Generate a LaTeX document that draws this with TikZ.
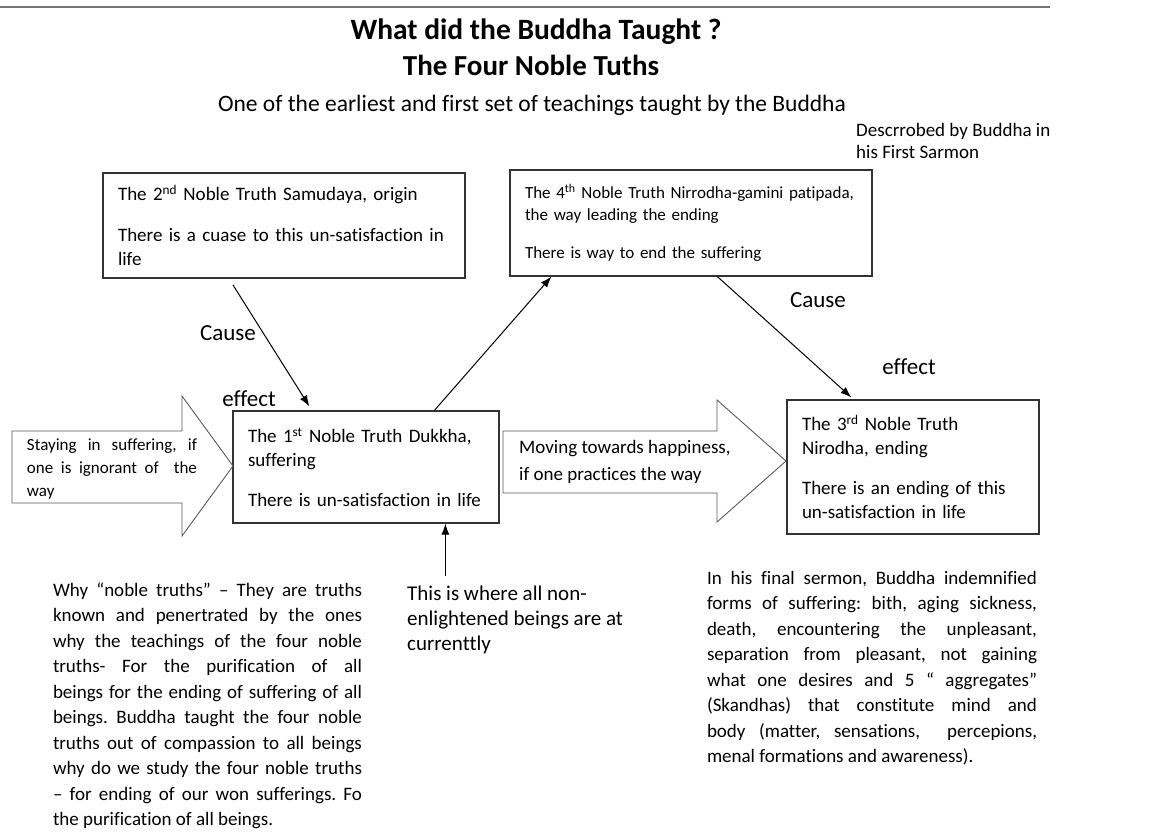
\documentclass[tikz,border=0pt]{standalone}
\usepackage{fontspec}
\setmainfont[Ligatures={NoCommon}]{Carlito}
\usetikzlibrary{arrows.meta,positioning}
\frenchspacing

\tikzset{
  truth/.style={draw=black!80, line width=1.2pt, inner xsep=15pt, inner ysep=0pt,
    align=left, font=\fontsize{19}{24}\selectfont},
  blockarrow/.style={draw=black!65, line width=0.9pt},
  link/.style={-{Latex[length=11pt,width=8pt]}, line width=1pt},
  note/.style={font=\fontsize{19}{25.5}\selectfont, inner sep=0pt, align=justify},
  tag/.style={font=\fontsize{23}{28}\selectfont, inner sep=0pt},
}

\begin{document}
\begin{tikzpicture}[x=1pt,y=-1pt]
\useasboundingbox (0,0) rectangle (1169,832);

\draw[black!55, line width=1.5pt] (0,7) -- (1050,7);

% headings
\node[font=\bfseries\fontsize{29.5}{34}\selectfont, anchor=base] (title) at (536,40) {What did the Buddha Taught ?};
\node[font=\bfseries\fontsize{29}{34}\selectfont, anchor=base] (subtitle) at (531,76) {The Four Noble Tuths};
\node[font=\fontsize{23.5}{28}\selectfont, anchor=base] (intro) at (532,112) {One of the earliest and first set of teachings taught by the Buddha};
\node[font=\fontsize{19}{22}\selectfont, align=left, anchor=west, inner sep=0pt] (sermon) at (856,141) {Descrrobed by Buddha in\\his First Sarmon};

% the four truths
\node[truth, minimum width=362pt, minimum height=105pt, text width=332pt] (samudaya) at (284,225.5)
  {The 2\textsuperscript{nd} Noble Truth Samudaya, origin\\[17pt]There is a cuase to this un-satisfaction in\\life};
\node[truth, minimum width=362pt, minimum height=106pt, text width=332pt, font=\fontsize{17}{22}\selectfont] (magga) at (691,223)
  {The 4\textsuperscript{th} Noble Truth Nirrodha-gamini patipada,\\the way leading the ending\\[16pt]There is way to end the suffering};
\node[truth, minimum width=266pt, minimum height=112pt, text width=236pt] (dukkha) at (366,467)
  {The 1\textsuperscript{st} Noble Truth Dukkha,\\suffering\\[16pt]There is un-satisfaction in life};
\node[truth, minimum width=252pt, minimum height=134pt, text width=222pt] (nirodha) at (913,467)
  {The 3\textsuperscript{rd} Noble Truth\\Nirodha, ending\\[16pt]There is an ending of this\\un-satisfaction in life};

% block arrows
\draw[blockarrow] (12,431) -- (182,431) -- (182,396) -- (233,466) -- (182,536) -- (182,503) -- (12,503) -- cycle;
\node[note, text width=170pt, font=\fontsize{17}{23}\selectfont] (ignorant) at (112,469)
  {Staying in suffering, if\linebreak one is ignorant of\ \ the\linebreak way};
\draw[blockarrow] (503,431) -- (717,431) -- (717,400) -- (786,461) -- (717,522) -- (717,493) -- (503,493) -- cycle;
\node[anchor=west, align=left, inner sep=0pt, font=\fontsize{19}{27}\selectfont] (practice) at (519,461.5)
  {Moving towards happiness,\\if one practices the way};

% cause and effect
\coordinate (origin) at (233,285);
\draw[link] (origin) -- ([xshift=77pt,yshift=4pt]dukkha.north west);
\draw[link] ([xshift=202pt]dukkha.north west) -- ([xshift=42pt]magga.south west);
\draw[link] ([xshift=208pt]magga.south west) -- ([xshift=65pt,yshift=2pt]nirodha.north west);
\draw[link] ([xshift=213pt,yshift=-52pt]dukkha.south west) -- ([xshift=213pt]dukkha.south west);

\node[tag] (cause1) at (228,333) {Cause};
\node[tag] (effect1) at (249,399) {effect};
\node[tag] (cause2) at (818,300) {Cause};
\node[tag] (effect2) at (909,367) {effect};

% notes below
\node[note, text width=309pt] (why) at (207.5,706)
  {Why “noble truths” – They are truths\linebreak
   known and penertrated by the ones\linebreak
   why the teachings of the four noble\linebreak
   truths- For the purification of all\linebreak
   beings for the ending of suffering of all\linebreak
   beings. Buddha taught the four noble\linebreak
   truths out of compassion to all beings\linebreak
   why do we study the four noble truths\linebreak
   – for ending of our won sufferings. Fo\linebreak
   the purification of all beings.};
\node[anchor=west, align=left, inner sep=0pt, font=\fontsize{21}{25}\selectfont] (current) at (407,620)
  {This is where all non-\\enlightened beings are at\\currenttly};
\node[note, text width=330pt] (forms) at (872,668)
  {In his final sermon, Buddha indemnified\linebreak
   forms of suffering: bith, aging sickness,\linebreak
   death, encountering the unpleasant,\linebreak
   separation from pleasant, not gaining\linebreak
   what one desires and 5 “ aggregates”\linebreak
   (Skandhas) that constitute mind and\linebreak
   body (matter, sensations,\ \ percepions,\linebreak
   menal formations and awareness).};
\end{tikzpicture}
\end{document}
